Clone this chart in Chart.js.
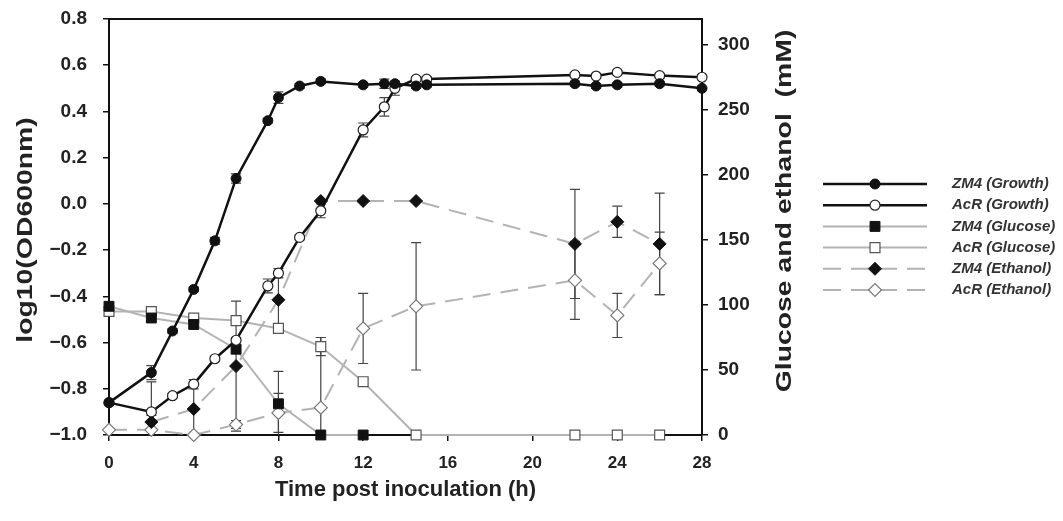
<!DOCTYPE html>
<html>
<head>
<meta charset="utf-8">
<script src="https://cdn.jsdelivr.net/npm/chart.js@4.4.1/dist/chart.umd.min.js"></script>
<style>
  html, body { margin: 0; padding: 0; background: #fff; }
  #wrap { width: 1063px; height: 521px; }
</style>
</head>
<body>
<div id="wrap"><canvas id="grafico" width="1063" height="521"></canvas></div>
<script>
// Datos
const horasCrecimiento = [0, 2, 3, 4, 5, 6, 7.5, 8, 9, 10, 12, 13, 13.5, 14.5, 15, 22, 23, 24, 26, 28];
const zm4Crecimiento = [-0.86, -0.73, -0.55, -0.37, -0.16, 0.11, 0.36, 0.46, 0.51, 0.53, 0.515, 0.52, 0.52, 0.51, 0.515, 0.52, 0.51, 0.515, 0.52, 0.50];
const zm4CrecimientoErr = [0.01, 0.03, 0.01, 0.01, 0.015, 0.02, 0.01, 0.025, 0.01, 0.01, 0.01, 0.02, 0.01, 0.01, 0.01, 0.01, 0.01, 0.01, 0.01, 0.01];
const acrCrecimiento = [-0.86, -0.90, -0.83, -0.78, -0.67, -0.59, -0.355, -0.30, -0.145, -0.03, 0.32, 0.42, 0.50, 0.54, 0.54, 0.558, 0.553, 0.569, 0.555, 0.548];
const acrCrecimientoErr = [0.01, 0.13, 0.01, 0.02, 0.01, 0.01, 0.03, 0.02, 0.01, 0.03, 0.03, 0.04, 0.03, 0.01, 0.01, 0.01, 0.01, 0.01, 0.01, 0.01];

const horasGlucosaZM4 = [0, 2, 4, 6, 8, 10, 12];
const zm4Glucosa = [99, 90, 85, 66, 24, 0, 0];
const zm4GlucosaErr = [2, 2, 2, 3, 25, 0, 0];

const horasGlucosaAcR = [0, 2, 4, 6, 8, 10, 12, 14.5, 22, 24, 26];
const acrGlucosa = [95, 95, 90, 88, 82, 68, 41, 0, 0, 0, 0];
const acrGlucosaErr = [2, 2, 2, 2, 2, 7, 2, 0, 0, 0, 0];

const horasEtanolZM4 = [2, 4, 6, 8, 10, 12, 14.5, 22, 24, 26];
const zm4Etanol = [10, 20, 53, 104, 180, 180, 180, 147, 164, 147];
const zm4EtanolErr = [5, 20, 50, 21, 0, 0, 0, 42, 12, 39];

const horasEtanolAcR = [0, 2, 4, 6, 8, 10, 12, 14.5, 22, 24, 26];
const acrEtanol = [4, 4, 0, 8, 17, 21, 82, 99, 119, 92, 132];
const acrEtanolErr = [0, 0, 0, 3, 15, 54, 27, 49, 30, 17, 24];

const ticksX = [0, 4, 8, 12, 16, 20, 24, 28];
const ticksIzq = [-1.0, -0.8, -0.6, -0.4, -0.2, 0.0, 0.2, 0.4, 0.6, 0.8];
const ticksDer = [0, 50, 100, 150, 200, 250, 300];
const etiquetas = ['ZM4 (Growth)', 'AcR (Growth)', 'ZM4 (Glucose)', 'AcR (Glucose)', 'ZM4 (Ethanol)', 'AcR (Ethanol)'];

const FUENTE = '"Liberation Sans", Arial, sans-serif';
const GRIS = '#b3b3b3';

function puntos(xs, ys) {
    return xs.map((x, i) => ({ x: x, y: ys[i] }));
}

// Barras de error verticales
const barrasError = {
    id: 'barrasError',
    beforeDatasetsDraw(chart) {
        const ctx = chart.ctx;
        const area = chart.chartArea;
        ctx.save();
        ctx.beginPath();
        ctx.rect(area.left, area.top, area.right - area.left, area.bottom - area.top);
        ctx.clip();
        ctx.strokeStyle = '#444';
        ctx.lineWidth = 1.2;
        chart.data.datasets.forEach((ds, i) => {
            const meta = chart.getDatasetMeta(i);
            const escala = chart.scales[ds.yAxisID];
            ds.errores.forEach((e, j) => {
                if (!e) return;
                const x = meta.data[j].x;
                const v = ds.data[j].y;
                const y1 = escala.getPixelForValue(v + e);
                const y2 = escala.getPixelForValue(v - e);
                ctx.beginPath();
                ctx.moveTo(x, y1); ctx.lineTo(x, y2);
                ctx.moveTo(x - 5, y1); ctx.lineTo(x + 5, y1);
                ctx.moveTo(x - 5, y2); ctx.lineTo(x + 5, y2);
                ctx.stroke();
            });
        });
        ctx.restore();
    }
};

// Marco, títulos de los ejes verticales y leyenda
const extras = {
    id: 'extras',
    afterDraw(chart) {
        const ctx = chart.ctx;
        const area = chart.chartArea;
        ctx.save();
        ctx.strokeStyle = '#111';
        ctx.lineWidth = 2;
        ctx.beginPath();
        ctx.moveTo(area.left - 1, area.top);
        ctx.lineTo(area.right + 1, area.top);
        ctx.stroke();

        ctx.fillStyle = '#222';
        ctx.font = 'bold 22px ' + FUENTE;
        ctx.textAlign = 'center';
        ctx.textBaseline = 'middle';
        ctx.save();
        ctx.translate(26, 230);
        ctx.rotate(-Math.PI / 2);
        ctx.scale(1.29, 1);
        ctx.fillText('log10(OD600nm)', 0, 0);
        ctx.restore();
        ctx.save();
        ctx.translate(785, 211);
        ctx.rotate(-Math.PI / 2);
        ctx.scale(1.29, 1);
        ctx.fillText('Glucose and ethanol  (mM)', 0, 0);
        ctx.restore();

        chart.data.datasets.forEach((ds, i) => {
            const y = 184 + i * 21.2;
            ctx.save();
            ctx.strokeStyle = ds.borderColor;
            ctx.lineWidth = ds.borderWidth;
            ctx.setLineDash(ds.borderDash || []);
            ctx.beginPath();
            ctx.moveTo(823, y);
            ctx.lineTo(927, y);
            ctx.stroke();
            ctx.setLineDash([]);
            ctx.fillStyle = ds.pointBackgroundColor;
            ctx.strokeStyle = ds.pointBorderColor;
            ctx.lineWidth = ds.pointBorderWidth;
            Chart.helpers.drawPoint(ctx, { pointStyle: ds.pointStyle, radius: ds.pointRadius, rotation: 0, borderWidth: ds.pointBorderWidth }, 875, y);
            ctx.restore();
            ctx.fillStyle = '#333';
            ctx.font = 'italic bold 15px ' + FUENTE;
            ctx.textAlign = 'left';
            ctx.fillText(etiquetas[i], 952, y);
        });
        ctx.restore();
    }
};

function serie(indice, xs, ys, errs, eje, estilo) {
    return Object.assign({
        label: etiquetas[indice],
        data: puntos(xs, ys),
        errores: errs,
        yAxisID: eje,
        tension: 0,
        clip: false,
        pointHoverRadius: 5
    }, estilo);
}

const datasets = [
    serie(0, horasCrecimiento, zm4Crecimiento, zm4CrecimientoErr, 'yIzq', {
        borderColor: '#111', borderWidth: 2.5, pointStyle: 'circle', pointRadius: 5,
        pointBackgroundColor: '#111', pointBorderColor: '#111', pointBorderWidth: 1
    }),
    serie(1, horasCrecimiento, acrCrecimiento, acrCrecimientoErr, 'yIzq', {
        borderColor: '#111', borderWidth: 2.5, pointStyle: 'circle', pointRadius: 5,
        pointBackgroundColor: '#fff', pointBorderColor: '#222', pointBorderWidth: 1.2
    }),
    serie(2, horasGlucosaZM4, zm4Glucosa, zm4GlucosaErr, 'yDer', {
        borderColor: GRIS, borderWidth: 2, pointStyle: 'rect', pointRadius: 7,
        pointBackgroundColor: '#111', pointBorderColor: '#111', pointBorderWidth: 1
    }),
    serie(3, horasGlucosaAcR, acrGlucosa, acrGlucosaErr, 'yDer', {
        borderColor: GRIS, borderWidth: 2, pointStyle: 'rect', pointRadius: 7,
        pointBackgroundColor: '#fff', pointBorderColor: '#555', pointBorderWidth: 1.2
    }),
    serie(4, horasEtanolZM4, zm4Etanol, zm4EtanolErr, 'yDer', {
        borderColor: GRIS, borderWidth: 2, borderDash: [18, 10], pointStyle: 'rectRot', pointRadius: 6.5,
        pointBackgroundColor: '#111', pointBorderColor: '#111', pointBorderWidth: 1
    }),
    serie(5, horasEtanolAcR, acrEtanol, acrEtanolErr, 'yDer', {
        borderColor: GRIS, borderWidth: 2, borderDash: [18, 10], pointStyle: 'rectRot', pointRadius: 6.5,
        pointBackgroundColor: '#fff', pointBorderColor: '#777', pointBorderWidth: 1.2
    })
];

const rejilla = { drawOnChartArea: false, drawTicks: true, tickLength: 6, color: '#111', lineWidth: 1.5 };
const borde = { display: true, color: '#111', width: 2 };

// ajuste fijo del ancho de los ejes verticales, sin margen extra arriba/abajo
function ajusteVertical(ancho) {
    return s => {
        s.width = ancho;
        s.paddingTop = 0;
        s.paddingBottom = 0;
    };
}

new Chart(document.getElementById('grafico'), {
    type: 'line',
    data: { datasets: datasets },
    options: {
        responsive: false,
        animation: false,
        devicePixelRatio: 1,
        layout: { padding: { top: 19, right: 241, left: 0, bottom: 0 } },
        plugins: { legend: { display: false }, tooltip: { enabled: false } },
        scales: {
            x: {
                type: 'linear', min: 0, max: 28,
                afterBuildTicks: s => { s.ticks = ticksX.map(v => ({ value: v })); },
                afterFit: s => { s.height = 86; },
                grid: rejilla, border: borde,
                ticks: { color: '#222', padding: 12, maxRotation: 0, font: { family: FUENTE, size: 17, weight: 'bold' } },
                title: { display: true, text: 'Time post inoculation (h)', color: '#222', padding: { top: 0, bottom: 18 },
                         font: { family: FUENTE, size: 22, weight: 'bold' } }
            },
            yIzq: {
                type: 'linear', position: 'left', min: -1.0, max: 0.8,
                afterBuildTicks: s => { s.ticks = ticksIzq.map(v => ({ value: v })); },
                afterFit: ajusteVertical(109),
                grid: rejilla, border: borde,
                ticks: { color: '#222', padding: 16, font: { family: FUENTE, size: 19, weight: 'bold' },
                         callback: v => v.toFixed(1).replace('-', '\u2212') }
            },
            yDer: {
                type: 'linear', position: 'right', min: 0, max: 320,
                afterBuildTicks: s => { s.ticks = ticksDer.map(v => ({ value: v })); },
                afterFit: ajusteVertical(120),
                grid: rejilla, border: borde,
                ticks: { color: '#222', padding: 10, font: { family: FUENTE, size: 19, weight: 'bold' } }
            }
        }
    },
    plugins: [barrasError, extras]
});
</script>
</body>
</html>
